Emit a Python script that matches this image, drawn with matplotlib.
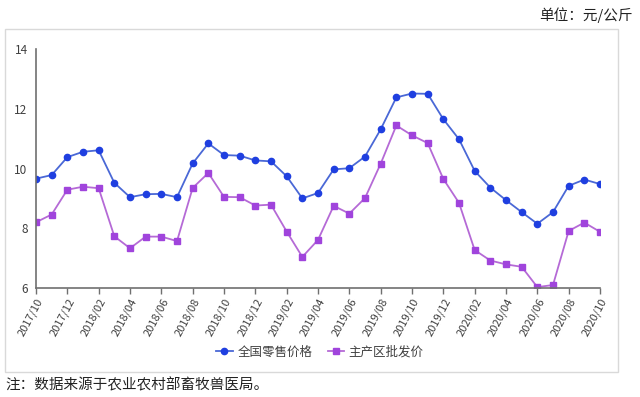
import numpy as np
import matplotlib
matplotlib.use('Agg')
import matplotlib.pyplot as plt

plt.rcParams['font.family'] = ['Noto Sans CJK SC', 'DejaVu Sans']

# 月份 2017/10 - 2020/10
months = []
for y in range(2017, 2021):
    for m in range(1, 13):
        if (y == 2017 and m < 10) or (y == 2020 and m > 10):
            continue
        months.append(f"{y}/{m:02d}")

retail = [9.66, 9.78, 10.38, 10.56, 10.61, 9.52, 9.04, 9.14, 9.15, 9.04,
          10.17, 10.84, 10.45, 10.43, 10.27, 10.24, 9.74, 9.00, 9.18, 9.97,
          10.01, 10.40, 11.31, 12.38, 12.51, 12.50, 11.65, 10.98, 9.92, 9.36,
          8.94, 8.54, 8.15, 8.54, 9.42, 9.63, 9.48]
wholesale = [8.20, 8.46, 9.29, 9.39, 9.34, 7.73, 7.33, 7.72, 7.72, 7.57,
             9.35, 9.85, 9.05, 9.04, 8.76, 8.79, 7.89, 7.04, 7.61, 8.75,
             8.49, 9.01, 10.16, 11.44, 11.11, 10.85, 9.65, 8.85, 7.27, 6.92,
             6.79, 6.71, 6.03, 6.10, 7.91, 8.19, 7.88]
series_names = ['全国零售价格', '主产区批发价']

fig = plt.figure(figsize=(6.4, 3.97), dpi=100)

# 图表外框
frame = plt.Rectangle((5 / 640, 1 - 372 / 397), 613 / 640, 343 / 397,
                      transform=fig.transFigure, fill=False,
                      edgecolor='#d9d9d9', linewidth=1.0)
fig.patches.append(frame)

ax = fig.add_axes([36 / 640, 1 - 288 / 397, 564 / 640, 239 / 397])
x = np.arange(len(months))
ax.plot(x, retail, color='#4a68d6', linewidth=1.3, marker='o', markersize=4.5,
        markerfacecolor='#1f3fe0', markeredgecolor='#1f3fe0', label=series_names[0])
ax.plot(x, wholesale, color='#b56ad6', linewidth=1.3, marker='s', markersize=4.2,
        markerfacecolor='#a044dc', markeredgecolor='#a044dc', label=series_names[1])

ax.set_xlim(0, len(months) - 1)
ax.set_ylim(6, 14)
ax.set_yticks([6, 8, 10, 12, 14])
ax.set_xticks(x[::2])
ax.set_xticklabels(months[::2], rotation=62, ha='right', rotation_mode='anchor',
                   fontsize=8, color='#404040')
ax.tick_params(axis='y', length=0, labelsize=8.5, colors='#404040', pad=6)
ax.tick_params(axis='x', length=4, width=1, color='#707070', pad=2)
for s in ['top', 'right']:
    ax.spines[s].set_visible(False)
for s in ['left', 'bottom']:
    ax.spines[s].set_color('#707070')
    ax.spines[s].set_linewidth(1.2)

ax.legend(loc='center', bbox_to_anchor=(320 / 640, 1 - 352 / 397),
          bbox_transform=fig.transFigure, ncol=2, frameon=False,
          fontsize=9, handlelength=1.3, handletextpad=0.4, columnspacing=1.2,
          labelcolor='#404040')

fig.text(633 / 640, 1 - 15 / 397, '单位：元/公斤', ha='right', va='center',
         fontsize=10.5, color='#222222')
fig.text(5 / 640, 1 - 385 / 397, '注：数据来源于农业农村部畜牧兽医局。', ha='left',
         va='center', fontsize=10.5, color='#222222')

fig.savefig('out.png', dpi=100)
